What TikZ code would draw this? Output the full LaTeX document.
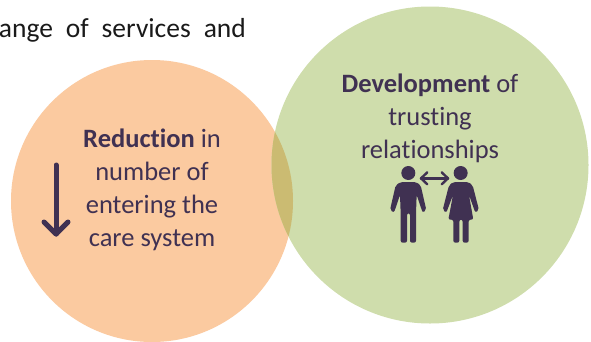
\documentclass[tikz,border=0pt]{standalone}
\usepackage{fontspec}
\setmainfont[Ligatures=NoCommon]{Carlito}
\definecolor{orangedisc}{HTML}{FBCAA0}
\definecolor{greendisc}{HTML}{CFDDAC}
\definecolor{lensfill}{HTML}{CBBB72}
\definecolor{plum}{HTML}{403152}
\definecolor{captionink}{HTML}{1A1A1A}
\tikzset{
  label text/.style={text=plum,font=\fontsize{26.5}{33}\selectfont,align=center,inner sep=0pt},
  figure ink/.style={fill=plum,draw=none},
  limb/.style={draw=plum,line cap=round,line join=round}
}
\begin{document}
\begin{tikzpicture}[x=1pt,y=-1pt]
\useasboundingbox (0,0) rectangle (591,341);
\fill[white] (0,0) rectangle (591,341);
\fill[orangedisc] (152,201) circle[radius=141];
\fill[greendisc] (430,165) circle[radius=158.5];
\begin{scope}
  \clip (152,201) circle[radius=141];
  \fill[lensfill] (430,165) circle[radius=158.5];
\end{scope}
\node[anchor=base east,text=captionink,font=\fontsize{27.5}{28}\selectfont,inner sep=0pt] (caption) at (246,37) {ange\hspace{6.7pt} of\hspace{6.7pt} services\hspace{6.7pt} and};
\node[label text,anchor=center] (reduction) at (152,190) {\textbf{Reduction} in\\number of\\entering the\\care system};
\node[label text,anchor=center] (development) at (430,118) {\textbf{Development} of\\trusting\\relationships};
% down arrow
\coordinate (downtop) at (56,165);
\coordinate (downtip) at (56,234);
\draw[limb,line width=5pt] (downtop) -- (downtip);
\draw[limb,line width=5pt] (44,222) -- (downtip) -- (68,222);
% people
\begin{scope}[shift={(370,150)},x=0.3333pt,y=-0.3333pt]
  \fill[figure ink] (115,69) circle[radius=21];
  \fill[figure ink] (272,69) circle[radius=21];
  % man
  \fill[figure ink,rounded corners=2pt] (92,96) -- (138,96) -- (152,106) -- (169,180) -- (158,188) -- (140,135) -- (138,190) -- (138,278) -- (120,278) -- (120,190) -- (111,190) -- (111,278) -- (92,278) -- (92,190) -- (90,135) -- (72,188) -- (60,180) -- (77,106) -- cycle;
  % woman
  \fill[figure ink,rounded corners=2pt] (250,96) -- (295,96) -- (308,106) -- (327,180) -- (316,188) -- (297,135) -- (310,209) -- (296,209) -- (296,278) -- (278,278) -- (278,209) -- (268,209) -- (268,278) -- (250,278) -- (250,209) -- (235,209) -- (249,135) -- (229,188) -- (218,180) -- (237,106) -- cycle;
  % double arrow
  \draw[limb,line width=2.4pt] (153,85) -- (234,85);
  \draw[limb,line width=2.4pt] (172,67) -- (153,85) -- (172,103);
  \draw[limb,line width=2.4pt] (215,67) -- (234,85) -- (215,103);
\end{scope}
\end{tikzpicture}
\end{document}
